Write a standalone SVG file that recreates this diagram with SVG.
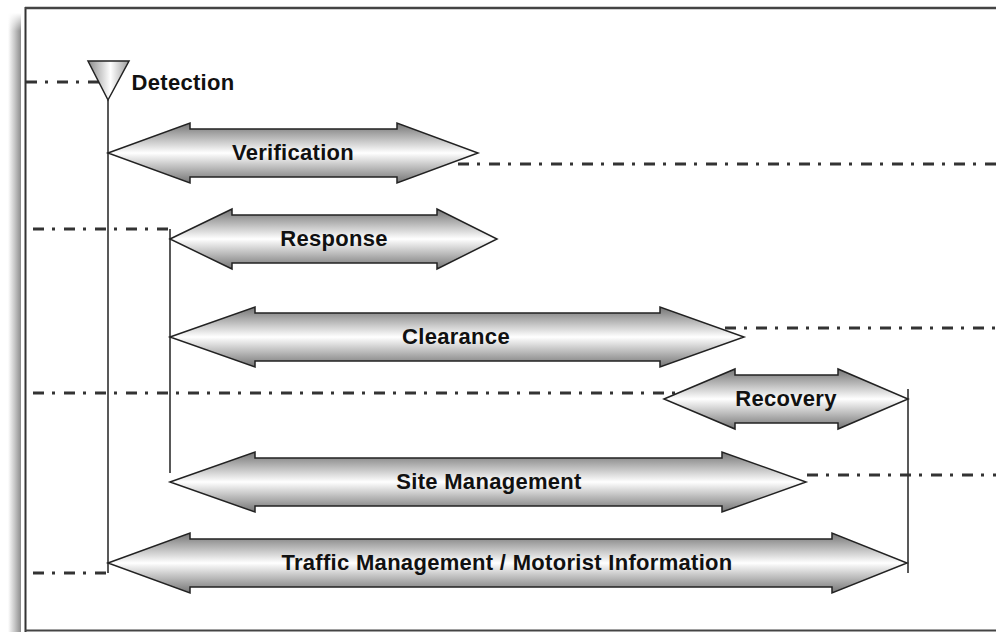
<svg xmlns="http://www.w3.org/2000/svg" width="996" height="632" viewBox="0 0 996 632">
<defs>
<linearGradient id="gArrow" x1="0" y1="0" x2="0" y2="1">
<stop offset="0" stop-color="#747474"/>
<stop offset="0.5" stop-color="#ffffff"/>
<stop offset="1" stop-color="#747474"/>
</linearGradient>
<linearGradient id="gTri" x1="0" y1="0" x2="1" y2="0">
<stop offset="0" stop-color="#8a8a8a"/>
<stop offset="0.55" stop-color="#ffffff"/>
<stop offset="1" stop-color="#9a9a9a"/>
</linearGradient>
<linearGradient id="gShadow" x1="0" y1="0" x2="1" y2="0">
<stop offset="0" stop-color="#ffffff"/>
<stop offset="0.5" stop-color="#c8c8c8"/>
<stop offset="1" stop-color="#8c8c8c"/>
</linearGradient>
<linearGradient id="gShadowTop" x1="0" y1="0" x2="0" y2="1">
<stop offset="0" stop-color="#ffffff" stop-opacity="1"/>
<stop offset="1" stop-color="#ffffff" stop-opacity="0"/>
</linearGradient>
</defs>
<style>
.arrow{fill:url(#gArrow);stroke:#222;stroke-width:1.5;stroke-linejoin:miter}
.lbl{font-family:"Liberation Sans",Arial,sans-serif;font-weight:bold;font-size:22px;letter-spacing:0.3px;fill:#111;text-anchor:middle}
.solid{stroke:#222;stroke-width:1.5;fill:none}
.dash{stroke:#333;stroke-width:3;fill:none;stroke-dasharray:11 8 3 9}
</style>
<rect x="0" y="0" width="996" height="632" fill="#ffffff"/>
<g id="frame">
<rect x="8" y="13" width="13" height="619" fill="url(#gShadow)"/>
<rect x="8" y="13" width="13" height="18" fill="url(#gShadowTop)"/>
<line x1="25.5" y1="7" x2="25.5" y2="632" stroke="#333" stroke-width="2"/>
<line x1="25" y1="8" x2="996" y2="8" stroke="#444" stroke-width="2.5"/>
<line x1="25" y1="630.5" x2="996" y2="630.5" stroke="#444" stroke-width="2"/>
</g>
<g id="connectors">
<line class="solid" x1="108" y1="100" x2="108" y2="573"/>
<line class="solid" x1="170" y1="229" x2="170" y2="473"/>
<line class="solid" x1="908" y1="389" x2="908" y2="573"/>
<line class="dash" x1="26" y1="82" x2="99" y2="82"/>
<line class="dash" x1="458" y1="164" x2="996" y2="164"/>
<line class="dash" x1="33" y1="229" x2="170" y2="229"/>
<line class="dash" x1="725" y1="328" x2="996" y2="328"/>
<line class="dash" x1="33" y1="393" x2="682" y2="393"/>
<line class="dash" x1="807" y1="475" x2="996" y2="475"/>
<line class="dash" x1="33" y1="573" x2="108" y2="573"/>
</g>
<g id="detection">
<polygon points="88,61 129,61 108,100" fill="url(#gTri)" stroke="#222" stroke-width="1.5"/>
<text class="lbl" x="183" y="90">Detection</text>
</g>
<g id="verification">
<path class="arrow" d="M108,153 L190,123 L190,129 L397,129 L397,123 L478,153 L397,183 L397,177 L190,177 L190,183 Z"/>
<text class="lbl" x="293" y="160">Verification</text>
</g>
<g id="response">
<path class="arrow" d="M170,239 L232,209 L232,215 L437,215 L437,209 L497,239 L437,269 L437,263 L232,263 L232,269 Z"/>
<text class="lbl" x="334" y="246">Response</text>
</g>
<g id="clearance">
<path class="arrow" d="M170,337 L255,307 L255,313 L660,313 L660,307 L744,337 L660,367 L660,361 L255,361 L255,367 Z"/>
<text class="lbl" x="456" y="344">Clearance</text>
</g>
<g id="recovery">
<path class="arrow" d="M664,399 L735,369 L735,375 L838,375 L838,369 L908,399 L838,429 L838,423 L735,423 L735,429 Z"/>
<text class="lbl" x="786" y="406">Recovery</text>
</g>
<g id="site-management">
<path class="arrow" d="M170,482 L255,452 L255,458 L722,458 L722,452 L806,482 L722,512 L722,506 L255,506 L255,512 Z"/>
<text class="lbl" x="489" y="489">Site Management</text>
</g>
<g id="traffic-management">
<path class="arrow" d="M108,563 L190,533 L190,539 L832,539 L832,533 L907,563 L832,593 L832,587 L190,587 L190,593 Z"/>
<text class="lbl" x="507" y="570">Traffic Management / Motorist Information</text>
</g>
</svg>
